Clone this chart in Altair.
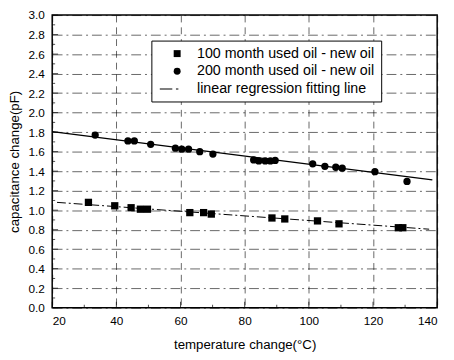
import altair as alt
import pandas as pd

LAB100 = "100 month used oil - new oil"
LAB200 = "200 month used oil - new oil"
LABFIT = "linear regression fitting line"

# 100 month series (squares)
x100 = [31.3, 39.5, 44.6, 47.5, 49.7, 62.9, 67.2, 69.6, 88.5, 92.5, 102.7, 109.4, 127.9, 129.3]
y100 = [1.08, 1.045, 1.025, 1.01, 1.01, 0.975, 0.975, 0.96, 0.92, 0.91, 0.89, 0.86, 0.82, 0.82]

# 200 month series (circles)
x200 = [33.4, 43.6, 45.6, 50.7, 58.4, 60.4, 62.5, 66.0, 70.1, 82.8, 84.4, 86.4, 88.0, 89.5,
        101.2, 105.0, 108.4, 110.4, 120.6, 130.6]
y200 = [1.77, 1.71, 1.71, 1.675, 1.635, 1.625, 1.625, 1.60, 1.575, 1.515, 1.505, 1.505, 1.505, 1.51,
        1.475, 1.45, 1.44, 1.43, 1.395, 1.295]

# fitted lines (end points)
fit100_x = [21.5, 137.5]
fit100_y = [1.08, 0.805]
fit200_x = [20.0, 138.5]
fit200_y = [1.805, 1.31]

x_major = [20, 40, 60, 80, 100, 120, 140]
x_minor = [30, 50, 70, 90, 110, 130]
y_major = [0.0, 0.2, 0.4, 0.6, 0.8, 1.0, 1.2, 1.4, 1.6, 1.8, 2.0, 2.2, 2.4, 2.6, 2.8, 3.0]
y_minor = [0.1, 0.3, 0.5, 0.7, 0.9, 1.1, 1.3, 1.5, 1.7, 1.9, 2.1, 2.3, 2.5, 2.7, 2.9]

FONT = "Liberation Sans"
W, H = 392, 298

pts = pd.DataFrame({
    "x": x100 + x200,
    "y": y100 + y200,
    "series": [LAB100] * len(x100) + [LAB200] * len(x200),
})
fit100 = pd.DataFrame({"x": fit100_x, "y": fit100_y})
fit200 = pd.DataFrame({"x": fit200_x, "y": fit200_y})

xscale = alt.Scale(domain=[20, 140], nice=False, zero=False)
yscale = alt.Scale(domain=[0, 3], nice=False, zero=False)

x_axis = alt.Axis(values=x_major, title="temperature change(°C)", grid=True,
                  gridDash=[7, 5], ticks=False, domain=False, labelPadding=8,
                  titlePadding=12, labelOverlap=False)
y_axis = alt.Axis(values=y_major, format=".1f", title="capacitance change(pF)", grid=True,
                  gridDash=[10, 4, 2, 4], ticks=False, domain=False, labelPadding=8,
                  titlePadding=7, labelOverlap=False, tickCount=16)

X = alt.X("x:Q", scale=xscale, axis=x_axis)
Y = alt.Y("y:Q", scale=yscale, axis=y_axis)

line_path = "M-5,-0.14H-1.4V0.14H-5Z M-0.35,-0.14H0.35V0.14H-0.35Z"

points = alt.Chart(pts).mark_point(filled=True, opacity=1, size=55, color="black").encode(
    x=X, y=Y,
    shape=alt.Shape("series:N",
                    scale=alt.Scale(domain=[LAB100, LAB200, LABFIT],
                                    range=["square", "circle", line_path]),
                    legend=alt.Legend(orient="none", legendX=101, legendY=26, title=None,
                                      labelFont=FONT, labelFontSize=14.5, labelColor="black",
                                      symbolSize=50, symbolFillColor="black",
                                      symbolStrokeColor="black", symbolStrokeWidth=0.5,
                                      symbolOpacity=1,
                                      strokeColor="black", fillColor="white", padding=6,
                                      rowPadding=3, symbolOffset=13, labelOffset=13,
                                      labelLimit=400)),
)

line200 = alt.Chart(fit200).mark_line(color="black", strokeWidth=1.4).encode(x=X, y=Y)
line100 = alt.Chart(fit100).mark_line(color="black", strokeWidth=1, strokeDash=[9, 3, 2, 3]).encode(x=X, y=Y)

ytick_major = alt.Chart(pd.DataFrame({"y": y_major})).mark_tick(
    orient="horizontal", size=6, thickness=1, color="black", xOffset=3).encode(
    y=Y, x=alt.value(0))
ytick_minor = alt.Chart(pd.DataFrame({"y": y_minor})).mark_tick(
    orient="horizontal", size=3, thickness=1, color="black", xOffset=1.5).encode(
    y=Y, x=alt.value(0))
xtick_major = alt.Chart(pd.DataFrame({"x": x_major})).mark_tick(
    orient="vertical", size=6, thickness=1, color="black", yOffset=-3).encode(
    x=X, y=alt.value(H))
xtick_minor = alt.Chart(pd.DataFrame({"x": x_minor})).mark_tick(
    orient="vertical", size=3, thickness=1, color="black", yOffset=-1.5).encode(
    x=X, y=alt.value(H))

chart = alt.layer(line200, line100, points, ytick_major, ytick_minor, xtick_major, xtick_minor).properties(
    width=W, height=H,
    autosize="none",
    padding={"left": 45, "top": 4, "right": 9, "bottom": 48},
    background="white",
).configure_view(
    stroke="black", strokeWidth=1.5
).configure_axis(
    labelFont=FONT, labelFontSize=12, labelColor="black",
    titleFont=FONT, titleFontSize=13.5, titleFontWeight="normal", titleColor="black",
    gridColor="black", gridOpacity=0.6, gridWidth=1, labelOverlap=False,
)

chart.save("out.html", embed_options={"renderer": "svg", "actions": False})
